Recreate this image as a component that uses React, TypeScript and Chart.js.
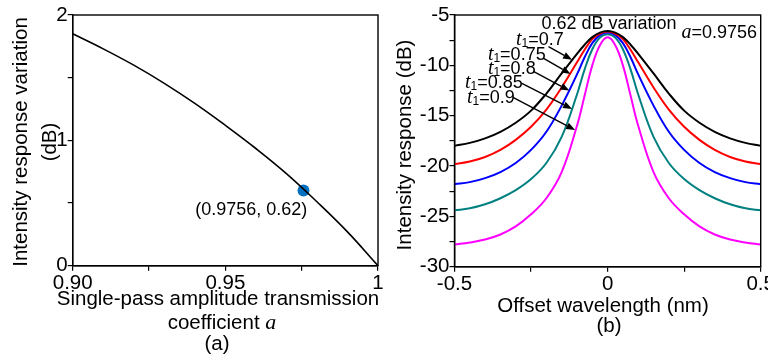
import React, { useEffect, useRef } from "react";
import { Chart, registerables } from "chart.js";
Chart.register(...registerables);

// ---------- data: panel (a) ----------
const aValues = [0.9, 0.91, 0.92, 0.93, 0.94, 0.95, 0.96, 0.97, 0.98, 0.99, 1.0];
const variationDb = [1.85, 1.73, 1.6, 1.455, 1.295, 1.12, 0.935, 0.735, 0.51, 0.27, 0.0];
const markerA = [0.9756];
const markerDb = [0.6];
const markerLabel = "(0.9756, 0.62)";
const aTickValues = [0.9, 0.95, 1.0];
const aTickLabels = ["0.90", "0.95", "1"];
const varTickValues = [0, 1, 2];

// ---------- data: panel (b) ----------
const offsetNm = [-0.5, -0.45, -0.4, -0.35, -0.3, -0.25, -0.2, -0.15, -0.1, -0.075, -0.05, -0.025, 0,
  0.025, 0.05, 0.075, 0.1, 0.15, 0.2, 0.25, 0.3, 0.35, 0.4, 0.45, 0.5];
const respT070 = [-18.0, -17.7, -17.25, -16.6, -15.7, -14.5, -12.8, -10.8, -8.85, -7.95, -7.2, -6.75, -6.6,
  -6.75, -7.2, -7.95, -8.85, -10.8, -12.8, -14.5, -15.7, -16.6, -17.25, -17.7, -18.0];
const respT075 = [-19.8, -19.55, -19.1, -18.4, -17.4, -16.1, -14.4, -12.2, -9.7, -8.45, -7.4, -6.85, -6.65,
  -6.85, -7.4, -8.45, -9.7, -12.2, -14.4, -16.1, -17.4, -18.4, -19.1, -19.55, -19.8];
const respT080 = [-21.8, -21.6, -21.2, -20.6, -19.7, -18.4, -16.6, -14.0, -10.9, -9.2, -7.8, -7.0, -6.75,
  -7.0, -7.8, -9.2, -10.9, -14.0, -16.6, -18.4, -19.7, -20.6, -21.2, -21.6, -21.8];
const respT085 = [-24.4, -24.2, -23.8, -23.2, -22.4, -21.3, -19.7, -17.1, -12.9, -10.4, -8.4, -7.25, -6.9,
  -7.25, -8.4, -10.4, -12.9, -17.1, -19.7, -21.3, -22.4, -23.2, -23.8, -24.2, -24.4];
const respT090 = [-27.8, -27.6, -27.3, -26.8, -26.0, -24.8, -23.2, -20.6, -16.0, -13.0, -10.0, -8.0, -7.22,
  -8.0, -10.0, -13.0, -16.0, -20.6, -23.2, -24.8, -26.0, -26.8, -27.3, -27.6, -27.8];
const t1Values = ["0.7", "0.75", "0.8", "0.85", "0.9"];
const seriesList = [respT070, respT075, respT080, respT085, respT090];
const offsetTickValues = [-0.5, 0, 0.5];
const offsetTickLabels = ["-0.5", "0", "0.5"];
const respTickValues = [-30, -25, -20, -15, -10, -5];
// annotation anchors (data coordinates)
const t1LabelX = [-0.299, -0.391, -0.391, -0.466, -0.459];
const t1LabelY = [-7.48, -8.97, -10.36, -11.75, -13.24];
const arrowFromX = [-0.193, -0.209, -0.241, -0.28, -0.309];
const arrowFromY = [-8.15, -9.3, -10.63, -11.78, -13.19];
const arrowToX = [-0.116, -0.121, -0.125, -0.116, -0.106];
const arrowToY = [-9.44, -10.86, -12.5, -14.33, -16.42];

const COLORS = ["#000000", "#ff0000", "#0000ff", "#008080", "#ff00ff"];
const SANS = '"Liberation Sans", Arial, Helvetica, sans-serif';
const SERIF = '"Liberation Serif", "Times New Roman", serif';
const FS = 20.5;

type Part = { text: string; font: string; dy?: number };
function drawParts(ctx: CanvasRenderingContext2D, parts: Part[], x: number, y: number, align: string) {
  let total = 0;
  const widths = parts.map((p) => {
    ctx.font = p.font;
    const w = ctx.measureText(p.text).width;
    total += w;
    return w;
  });
  let cx = align === "left" ? x : align === "center" ? x - total / 2 : x - total;
  ctx.textAlign = "left";
  ctx.textBaseline = "middle";
  parts.forEach((p, i) => {
    ctx.font = p.font;
    ctx.fillText(p.text, cx, y + (p.dy || 0));
    cx += widths[i];
  });
}

function drawArrow(ctx: CanvasRenderingContext2D, x1: number, y1: number, x2: number, y2: number) {
  const ang = Math.atan2(y2 - y1, x2 - x1);
  const len = 9;
  const hw = 3.5;
  const bx = x2 - len * Math.cos(ang);
  const by = y2 - len * Math.sin(ang);
  ctx.beginPath();
  ctx.moveTo(x1, y1);
  ctx.lineTo(bx, by);
  ctx.lineWidth = 1.4;
  ctx.strokeStyle = "#000";
  ctx.stroke();
  ctx.beginPath();
  ctx.moveTo(x2, y2);
  ctx.lineTo(bx + hw * Math.sin(ang), by - hw * Math.cos(ang));
  ctx.lineTo(bx - hw * Math.sin(ang), by + hw * Math.cos(ang));
  ctx.closePath();
  ctx.fillStyle = "#000";
  ctx.fill();
}

function frame(chart: any) {
  const ctx = chart.ctx as CanvasRenderingContext2D;
  const { left, top, right, bottom } = chart.chartArea;
  ctx.save();
  ctx.strokeStyle = "#000";
  ctx.lineWidth = 1.4;
  ctx.strokeRect(left, top, right - left, bottom - top);
  ctx.restore();
}

function near(list: number[], v: number) {
  return list.findIndex((t) => Math.abs(t - v) < 1e-6);
}

function axisCommon(fitSize: number, vertical: boolean) {
  return {
    type: "linear" as const,
    grid: { drawOnChartArea: false, drawTicks: true, tickLength: 5, color: "#000", lineWidth: 1.2 },
    border: { display: true, color: "#000", width: 1.4 },
    afterFit: (s: any) => {
      if (vertical) s.width = fitSize;
      else s.height = fitSize;
      s.paddingLeft = 0;
      s.paddingRight = 0;
      s.paddingTop = 0;
      s.paddingBottom = 0;
    },
  };
}

function tickFont() {
  return { family: SANS, size: FS };
}

export default function App() {
  const refA = useRef<HTMLCanvasElement>(null);
  const refB = useRef<HTMLCanvasElement>(null);

  useEffect(() => {
    const textA = {
      id: "textA",
      afterDraw(chart: any) {
        frame(chart);
        const ctx = chart.ctx as CanvasRenderingContext2D;
        const xs = chart.scales.x;
        const ys = chart.scales.y;
        ctx.save();
        ctx.fillStyle = "#000";
        drawParts(ctx, [{ text: markerLabel, font: `18px ${SANS}` }], xs.getPixelForValue(0.9585), ys.getPixelForValue(0.444), "center");
        ctx.save();
        ctx.translate(21, 142);
        ctx.rotate(-Math.PI / 2);
        drawParts(ctx, [{ text: "Intensity response variation", font: `${FS}px ${SANS}` }], 0, 0, "center");
        ctx.restore();
        ctx.save();
        ctx.translate(50, 142);
        ctx.rotate(-Math.PI / 2);
        drawParts(ctx, [{ text: "(dB)", font: `${FS}px ${SANS}` }], 0, 0, "center");
        ctx.restore();
        drawParts(ctx, [{ text: "Single-pass amplitude transmission", font: `${FS}px ${SANS}` }], 218, 299, "center");
        drawParts(ctx, [
          { text: "coefficient ", font: `${FS}px ${SANS}` },
          { text: "a", font: `italic 22px ${SERIF}` },
        ], 222, 323, "center");
        drawParts(ctx, [{ text: "(a)", font: `${FS}px ${SANS}` }], 217, 344, "center");
        ctx.restore();
      },
    };

    const textB = {
      id: "textB",
      afterDraw(chart: any) {
        frame(chart);
        const ctx = chart.ctx as CanvasRenderingContext2D;
        const xs = chart.scales.x;
        const ys = chart.scales.y;
        ctx.save();
        ctx.fillStyle = "#000";
        drawParts(ctx, [{ text: "0.62 dB variation", font: `18px ${SANS}` }], xs.getPixelForValue(0.0046), ys.getPixelForValue(-5.94), "center");
        drawParts(ctx, [
          { text: "a", font: `italic 20px ${SERIF}` },
          { text: "=0.9756", font: `18px ${SANS}` },
        ], xs.getPixelForValue(0.488), ys.getPixelForValue(-6.79), "right");
        t1Values.forEach((v, i) => {
          drawParts(ctx, [
            { text: "t", font: `italic 20px ${SERIF}` },
            { text: "1", font: `12px ${SANS}`, dy: 4 },
            { text: "=" + v, font: `18px ${SANS}` },
          ], xs.getPixelForValue(t1LabelX[i]), ys.getPixelForValue(t1LabelY[i]), "left");
          drawArrow(ctx, xs.getPixelForValue(arrowFromX[i]), ys.getPixelForValue(arrowFromY[i]),
            xs.getPixelForValue(arrowToX[i]), ys.getPixelForValue(arrowToY[i]));
        });
        ctx.save();
        ctx.translate(21, 145);
        ctx.rotate(-Math.PI / 2);
        drawParts(ctx, [{ text: "Intensity response (dB)", font: `${FS}px ${SANS}` }], 0, 0, "center");
        ctx.restore();
        drawParts(ctx, [{ text: "Offset wavelength (nm)", font: `${FS}px ${SANS}` }], 219, 306, "center");
        drawParts(ctx, [{ text: "(b)", font: `${FS}px ${SANS}` }], 225, 326, "center");
        ctx.restore();
      },
    };

    const chartA = new Chart(refA.current as HTMLCanvasElement, {
      type: "scatter",
      data: {
        datasets: [
          {
            data: aValues.map((a, i) => ({ x: a, y: variationDb[i] })),
            showLine: true,
            borderColor: "#000",
            borderWidth: 1.6,
            pointRadius: 0,
            tension: 0.4,
          } as any,
          {
            data: markerA.map((a, i) => ({ x: a, y: markerDb[i] })),
            pointRadius: 6,
            pointHoverRadius: 6,
            backgroundColor: "#0070c0",
            borderWidth: 0,
          } as any,
        ],
      },
      options: {
        animation: false,
        responsive: false,
        maintainAspectRatio: false,
        events: [],
        layout: { padding: { left: 0, top: 15, right: 4.7, bottom: 0 } },
        plugins: { legend: { display: false }, tooltip: { enabled: false } },
        scales: {
          x: {
            ...axisCommon(92.3, false),
            min: 0.9,
            max: 1.0,
            ticks: {
              stepSize: 0.025,
              autoSkip: false,
              maxRotation: 0,
              padding: 0,
              color: "#000",
              font: tickFont(),
              callback: (v: any) => {
                const k = near(aTickValues, Number(v));
                return k >= 0 ? aTickLabels[k] : "";
              },
            },
          },
          y: {
            ...axisCommon(72.7, true),
            min: 0,
            max: 2,
            ticks: {
              stepSize: 0.5,
              autoSkip: false,
              padding: 0,
              color: "#000",
              font: tickFont(),
              callback: (v: any) => (near(varTickValues, Number(v)) >= 0 ? String(Math.round(Number(v))) : ""),
            },
          },
        } as any,
      },
      plugins: [textA],
    });

    const chartB = new Chart(refB.current as HTMLCanvasElement, {
      type: "scatter",
      data: {
        datasets: seriesList.map((s, k) => ({
          data: offsetNm.map((x, i) => ({ x, y: s[i] })),
          showLine: true,
          borderColor: COLORS[k],
          borderWidth: 2,
          pointRadius: 0,
          tension: 0.4,
        })) as any,
      },
      options: {
        animation: false,
        responsive: false,
        maintainAspectRatio: false,
        events: [],
        layout: { padding: { left: 0, top: 15, right: 7.3, bottom: 0 } },
        plugins: { legend: { display: false }, tooltip: { enabled: false } },
        scales: {
          x: {
            ...axisCommon(91.3, false),
            min: -0.5,
            max: 0.5,
            ticks: {
              stepSize: 0.25,
              autoSkip: false,
              maxRotation: 0,
              padding: 0,
              color: "#000",
              font: tickFont(),
              callback: (v: any) => {
                const k = near(offsetTickValues, Number(v));
                return k >= 0 ? offsetTickLabels[k] : "";
              },
            },
          },
          y: {
            ...axisCommon(70.5, true),
            min: -30,
            max: -5,
            ticks: {
              stepSize: 2.5,
              autoSkip: false,
              padding: 0,
              color: "#000",
              font: tickFont(),
              callback: (v: any) => (near(respTickValues, Number(v)) >= 0 ? String(Math.round(Number(v))) : ""),
            },
          },
        } as any,
      },
      plugins: [textB],
    });

    return () => {
      chartA.destroy();
      chartB.destroy();
    };
  }, []);

  return (
    <div style={{ position: "absolute", left: 0, top: 0, width: 768, height: 358, background: "#fff" }}>
      <canvas ref={refA} width={384} height={358} style={{ position: "absolute", left: 0, top: 0, width: 384, height: 358 }} />
      <canvas ref={refB} width={384} height={358} style={{ position: "absolute", left: 384, top: 0, width: 384, height: 358 }} />
    </div>
  );
}
